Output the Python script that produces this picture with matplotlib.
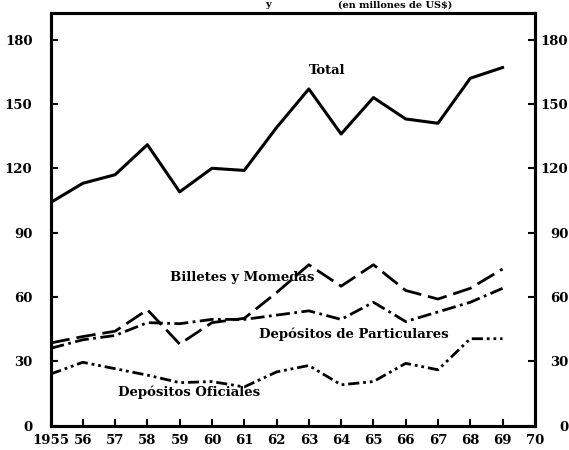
import matplotlib.pyplot as plt

# valores (millones)
years = list(range(1955, 1970))
total = [104, 113, 117, 131, 109, 120, 119, 139, 157, 136, 153, 143, 141, 162, 167]
billetes = [38.5, 41.5, 44, 54, 38, 48, 50, 62, 75, 65, 75, 63, 59, 64, 73]
particulares = [36, 40, 42, 48, 47.5, 49.5, 49.5, 51.5, 53.5, 49.5, 57.5, 48.5, 53, 57.5, 64]
oficiales = [24, 29.5, 26.5, 23.5, 20, 20.5, 18, 25, 28, 19, 20.5, 29, 26, 40.5, 40.5]

xticks = list(range(1955, 1971))
xlabels = ["1955"] + [str(y)[2:] for y in range(1956, 1971)]
yticks = [0, 30, 60, 90, 120, 150, 180]

font = "DejaVu Serif"
fs = 9.5

fig = plt.figure(figsize=(5.69, 4.5), dpi=100)
ax = fig.add_axes([0.0888, 0.0544, 0.8512, 0.917])

ax.plot(years, total, color="black", lw=2.2)
ax.plot(years, billetes, color="black", lw=2.0, linestyle=(0, (7, 2.5)))
ax.plot(years, particulares, color="black", lw=2.0, linestyle=(0, (5, 1.6, 1, 1.6)))
ax.plot(years, oficiales, color="black", lw=2.0, linestyle=(0, (4, 1.4, 1, 1.4, 1, 1.4)))

lbl = dict(ha="center", va="center", fontsize=fs, fontweight="bold", family=font)
ax.text(1963.56, 165.4, "Total", **lbl)
ax.text(1960.93, 69, "Billetes y Momedas", **lbl)
ax.text(1964.38, 42.7, "Depósitos de Particulares", **lbl)
ax.text(1959.29, 15.4, "Depósitos Oficiales", **lbl)

ax.set_xlim(1955, 1970)
ax.set_ylim(0, 192.5)
ax.set_xticks(xticks)
ax.set_xticklabels(xlabels)
ax.set_yticks(yticks)

# eje derecho con las mismas marcas
ax2 = ax.twinx()
ax2.set_ylim(0, 192.5)
ax2.set_yticks(yticks)

for a in (ax, ax2):
    for s in a.spines.values():
        s.set_linewidth(2.2)

ax.tick_params(axis="x", direction="in", length=5, width=1.5, pad=6)
ax.tick_params(axis="y", direction="in", length=5, width=1.5, pad=13)
ax2.tick_params(axis="y", direction="in", length=5, width=1.5, pad=24)
for lab in ax.get_xticklabels() + ax.get_yticklabels() + ax2.get_yticklabels():
    lab.set_fontfamily(font)
    lab.set_fontweight("bold")
    lab.set_fontsize(fs)
for lab in ax2.get_yticklabels():
    lab.set_horizontalalignment("right")

# titulo (en el original aparece cortado arriba)
fig.text(0.466, 0.999, "y", fontsize=7, fontweight="bold", family=font, va="top")
fig.text(0.594, 0.999, "(en millones de US$)", fontsize=7, fontweight="bold",
         family=font, va="top")

fig.savefig("out.png", dpi=100)
